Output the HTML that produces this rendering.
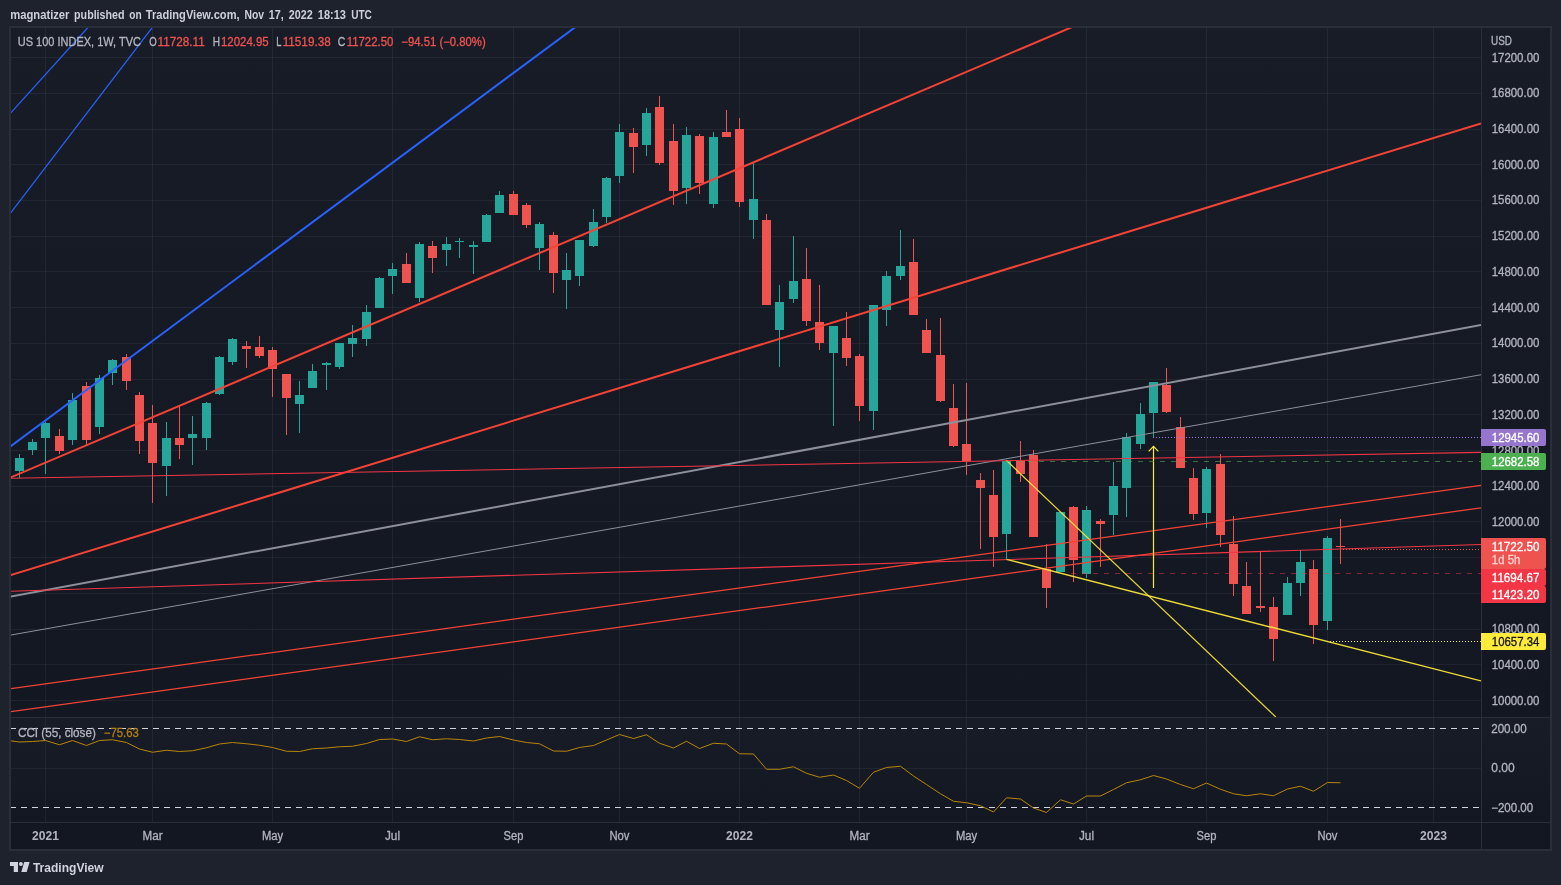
<!DOCTYPE html><html><head><meta charset="utf-8"><title>US 100 INDEX</title><style>html,body{margin:0;padding:0;background:#1e222d;overflow:hidden}svg{display:block}text{font-family:"Liberation Sans",sans-serif}</style></head><body>
<svg width="1561" height="885" viewBox="0 0 1561 885">
<rect width="1561" height="885" fill="#1e222d"/>
<rect x="9" y="26" width="1543" height="825" fill="#2a2e39"/>
<defs><linearGradient id="bgm" x1="0" y1="0" x2="0" y2="1"><stop offset="0" stop-color="#181c27"/><stop offset="1" stop-color="#131722"/></linearGradient></defs>
<rect x="11" y="28" width="1539" height="821" fill="#131722"/>
<rect x="11" y="28" width="1539" height="689" fill="url(#bgm)"/>
<rect x="11" y="718" width="1539" height="104" fill="url(#bgm)"/>
<defs><clipPath id="cm"><rect x="11" y="28" width="1470" height="689"/></clipPath><clipPath id="cc"><rect x="11" y="718" width="1470" height="104"/></clipPath><filter id="n" filterUnits="userSpaceOnUse" x="0" y="0" width="1561" height="885"><feOffset dx="0" dy="0"/></filter></defs>
<g shape-rendering="crispEdges" fill="rgba(240,243,250,0.06)">
<rect x="45" y="28" width="1" height="794"/>
<rect x="152" y="28" width="1" height="794"/>
<rect x="272" y="28" width="1" height="794"/>
<rect x="392" y="28" width="1" height="794"/>
<rect x="513" y="28" width="1" height="794"/>
<rect x="619" y="28" width="1" height="794"/>
<rect x="739" y="28" width="1" height="794"/>
<rect x="859" y="28" width="1" height="794"/>
<rect x="966" y="28" width="1" height="794"/>
<rect x="1086" y="28" width="1" height="794"/>
<rect x="1206" y="28" width="1" height="794"/>
<rect x="1327" y="28" width="1" height="794"/>
<rect x="1433" y="28" width="1" height="794"/>
<rect x="11" y="57" width="1470" height="1"/>
<rect x="11" y="93" width="1470" height="1"/>
<rect x="11" y="129" width="1470" height="1"/>
<rect x="11" y="164" width="1470" height="1"/>
<rect x="11" y="200" width="1470" height="1"/>
<rect x="11" y="236" width="1470" height="1"/>
<rect x="11" y="271" width="1470" height="1"/>
<rect x="11" y="307" width="1470" height="1"/>
<rect x="11" y="343" width="1470" height="1"/>
<rect x="11" y="379" width="1470" height="1"/>
<rect x="11" y="414" width="1470" height="1"/>
<rect x="11" y="450" width="1470" height="1"/>
<rect x="11" y="486" width="1470" height="1"/>
<rect x="11" y="521" width="1470" height="1"/>
<rect x="11" y="557" width="1470" height="1"/>
<rect x="11" y="593" width="1470" height="1"/>
<rect x="11" y="629" width="1470" height="1"/>
<rect x="11" y="664" width="1470" height="1"/>
<rect x="11" y="700" width="1470" height="1"/>
<rect x="11" y="768" width="1470" height="1"/>
</g>
<g shape-rendering="crispEdges" fill="#2a2e39">
<rect x="1481" y="28" width="1" height="821"/>
<rect x="11" y="717" width="1539" height="1"/>
<rect x="11" y="822" width="1539" height="1"/>
</g>
<g clip-path="url(#cm)">
<g shape-rendering="crispEdges">
<rect x="19" y="454" width="1" height="24" fill="#26a69a"/>
<rect x="15" y="458" width="9" height="13" fill="#26a69a"/>
<rect x="32" y="439" width="1" height="16" fill="#26a69a"/>
<rect x="28" y="442" width="9" height="8" fill="#26a69a"/>
<rect x="45" y="422" width="1" height="52" fill="#26a69a"/>
<rect x="41" y="423" width="9" height="15" fill="#26a69a"/>
<rect x="59" y="429" width="1" height="25" fill="#ef5350"/>
<rect x="55" y="436" width="9" height="15" fill="#ef5350"/>
<rect x="72" y="393" width="1" height="52" fill="#26a69a"/>
<rect x="68" y="400" width="9" height="40" fill="#26a69a"/>
<rect x="86" y="382" width="1" height="63" fill="#ef5350"/>
<rect x="82" y="386" width="9" height="54" fill="#ef5350"/>
<rect x="99" y="375" width="1" height="59" fill="#26a69a"/>
<rect x="95" y="378" width="9" height="49" fill="#26a69a"/>
<rect x="112" y="359" width="1" height="26" fill="#26a69a"/>
<rect x="108" y="360" width="9" height="13" fill="#26a69a"/>
<rect x="126" y="354" width="1" height="36" fill="#ef5350"/>
<rect x="122" y="357" width="9" height="24" fill="#ef5350"/>
<rect x="139" y="392" width="1" height="62" fill="#ef5350"/>
<rect x="135" y="395" width="9" height="46" fill="#ef5350"/>
<rect x="152" y="405" width="1" height="98" fill="#ef5350"/>
<rect x="148" y="423" width="9" height="40" fill="#ef5350"/>
<rect x="166" y="422" width="1" height="74" fill="#26a69a"/>
<rect x="162" y="438" width="9" height="28" fill="#26a69a"/>
<rect x="179" y="406" width="1" height="53" fill="#ef5350"/>
<rect x="175" y="438" width="9" height="7" fill="#ef5350"/>
<rect x="192" y="416" width="1" height="49" fill="#26a69a"/>
<rect x="188" y="434" width="9" height="4" fill="#26a69a"/>
<rect x="206" y="402" width="1" height="48" fill="#26a69a"/>
<rect x="202" y="403" width="9" height="35" fill="#26a69a"/>
<rect x="219" y="356" width="1" height="39" fill="#26a69a"/>
<rect x="215" y="357" width="9" height="37" fill="#26a69a"/>
<rect x="232" y="338" width="1" height="27" fill="#26a69a"/>
<rect x="228" y="339" width="9" height="23" fill="#26a69a"/>
<rect x="246" y="341" width="1" height="27" fill="#ef5350"/>
<rect x="242" y="346" width="9" height="3" fill="#ef5350"/>
<rect x="259" y="336" width="1" height="22" fill="#ef5350"/>
<rect x="255" y="347" width="9" height="9" fill="#ef5350"/>
<rect x="272" y="347" width="1" height="50" fill="#ef5350"/>
<rect x="268" y="350" width="9" height="19" fill="#ef5350"/>
<rect x="286" y="374" width="1" height="61" fill="#ef5350"/>
<rect x="282" y="374" width="9" height="24" fill="#ef5350"/>
<rect x="299" y="381" width="1" height="52" fill="#26a69a"/>
<rect x="295" y="395" width="9" height="9" fill="#26a69a"/>
<rect x="312" y="364" width="1" height="24" fill="#26a69a"/>
<rect x="308" y="371" width="9" height="17" fill="#26a69a"/>
<rect x="326" y="362" width="1" height="28" fill="#26a69a"/>
<rect x="322" y="363" width="9" height="2" fill="#26a69a"/>
<rect x="339" y="343" width="1" height="26" fill="#26a69a"/>
<rect x="335" y="343" width="9" height="24" fill="#26a69a"/>
<rect x="352" y="325" width="1" height="32" fill="#26a69a"/>
<rect x="348" y="338" width="9" height="6" fill="#26a69a"/>
<rect x="366" y="305" width="1" height="41" fill="#26a69a"/>
<rect x="362" y="312" width="9" height="27" fill="#26a69a"/>
<rect x="379" y="277" width="1" height="31" fill="#26a69a"/>
<rect x="375" y="278" width="9" height="30" fill="#26a69a"/>
<rect x="392" y="263" width="1" height="31" fill="#26a69a"/>
<rect x="388" y="269" width="9" height="7" fill="#26a69a"/>
<rect x="406" y="253" width="1" height="30" fill="#ef5350"/>
<rect x="402" y="264" width="9" height="19" fill="#ef5350"/>
<rect x="419" y="242" width="1" height="60" fill="#26a69a"/>
<rect x="415" y="244" width="9" height="54" fill="#26a69a"/>
<rect x="432" y="241" width="1" height="32" fill="#ef5350"/>
<rect x="428" y="246" width="9" height="12" fill="#ef5350"/>
<rect x="446" y="237" width="1" height="29" fill="#26a69a"/>
<rect x="442" y="244" width="9" height="6" fill="#26a69a"/>
<rect x="459" y="238" width="1" height="20" fill="#26a69a"/>
<rect x="455" y="241" width="9" height="1" fill="#26a69a"/>
<rect x="473" y="241" width="1" height="33" fill="#26a69a"/>
<rect x="469" y="245" width="9" height="2" fill="#26a69a"/>
<rect x="486" y="214" width="1" height="28" fill="#26a69a"/>
<rect x="482" y="215" width="9" height="27" fill="#26a69a"/>
<rect x="499" y="191" width="1" height="22" fill="#26a69a"/>
<rect x="495" y="195" width="9" height="18" fill="#26a69a"/>
<rect x="513" y="191" width="1" height="24" fill="#ef5350"/>
<rect x="509" y="194" width="9" height="21" fill="#ef5350"/>
<rect x="526" y="203" width="1" height="25" fill="#ef5350"/>
<rect x="522" y="205" width="9" height="20" fill="#ef5350"/>
<rect x="539" y="222" width="1" height="48" fill="#26a69a"/>
<rect x="535" y="224" width="9" height="24" fill="#26a69a"/>
<rect x="553" y="232" width="1" height="61" fill="#ef5350"/>
<rect x="549" y="235" width="9" height="38" fill="#ef5350"/>
<rect x="566" y="253" width="1" height="56" fill="#26a69a"/>
<rect x="562" y="270" width="9" height="10" fill="#26a69a"/>
<rect x="579" y="240" width="1" height="46" fill="#26a69a"/>
<rect x="575" y="240" width="9" height="36" fill="#26a69a"/>
<rect x="593" y="209" width="1" height="38" fill="#26a69a"/>
<rect x="589" y="222" width="9" height="24" fill="#26a69a"/>
<rect x="606" y="177" width="1" height="46" fill="#26a69a"/>
<rect x="602" y="178" width="9" height="39" fill="#26a69a"/>
<rect x="619" y="124" width="1" height="59" fill="#26a69a"/>
<rect x="615" y="132" width="9" height="44" fill="#26a69a"/>
<rect x="633" y="128" width="1" height="45" fill="#ef5350"/>
<rect x="629" y="133" width="9" height="14" fill="#ef5350"/>
<rect x="646" y="108" width="1" height="48" fill="#26a69a"/>
<rect x="642" y="113" width="9" height="32" fill="#26a69a"/>
<rect x="659" y="96" width="1" height="69" fill="#ef5350"/>
<rect x="655" y="107" width="9" height="56" fill="#ef5350"/>
<rect x="673" y="124" width="1" height="81" fill="#ef5350"/>
<rect x="669" y="141" width="9" height="50" fill="#ef5350"/>
<rect x="686" y="127" width="1" height="77" fill="#26a69a"/>
<rect x="682" y="135" width="9" height="53" fill="#26a69a"/>
<rect x="699" y="134" width="1" height="60" fill="#ef5350"/>
<rect x="695" y="136" width="9" height="47" fill="#ef5350"/>
<rect x="713" y="132" width="1" height="76" fill="#26a69a"/>
<rect x="709" y="137" width="9" height="67" fill="#26a69a"/>
<rect x="726" y="110" width="1" height="27" fill="#ef5350"/>
<rect x="722" y="132" width="9" height="5" fill="#ef5350"/>
<rect x="739" y="118" width="1" height="89" fill="#ef5350"/>
<rect x="735" y="129" width="9" height="73" fill="#ef5350"/>
<rect x="753" y="163" width="1" height="76" fill="#26a69a"/>
<rect x="749" y="199" width="9" height="21" fill="#26a69a"/>
<rect x="766" y="214" width="1" height="91" fill="#ef5350"/>
<rect x="762" y="220" width="9" height="85" fill="#ef5350"/>
<rect x="779" y="285" width="1" height="82" fill="#26a69a"/>
<rect x="775" y="302" width="9" height="28" fill="#26a69a"/>
<rect x="793" y="236" width="1" height="67" fill="#26a69a"/>
<rect x="789" y="281" width="9" height="18" fill="#26a69a"/>
<rect x="806" y="248" width="1" height="78" fill="#ef5350"/>
<rect x="802" y="279" width="9" height="42" fill="#ef5350"/>
<rect x="819" y="285" width="1" height="65" fill="#ef5350"/>
<rect x="815" y="322" width="9" height="21" fill="#ef5350"/>
<rect x="833" y="326" width="1" height="100" fill="#26a69a"/>
<rect x="829" y="326" width="9" height="27" fill="#26a69a"/>
<rect x="846" y="312" width="1" height="54" fill="#ef5350"/>
<rect x="842" y="338" width="9" height="20" fill="#ef5350"/>
<rect x="859" y="354" width="1" height="67" fill="#ef5350"/>
<rect x="855" y="356" width="9" height="50" fill="#ef5350"/>
<rect x="873" y="305" width="1" height="125" fill="#26a69a"/>
<rect x="869" y="305" width="9" height="106" fill="#26a69a"/>
<rect x="886" y="271" width="1" height="55" fill="#26a69a"/>
<rect x="882" y="276" width="9" height="34" fill="#26a69a"/>
<rect x="900" y="230" width="1" height="50" fill="#26a69a"/>
<rect x="896" y="266" width="9" height="10" fill="#26a69a"/>
<rect x="913" y="239" width="1" height="76" fill="#ef5350"/>
<rect x="909" y="262" width="9" height="53" fill="#ef5350"/>
<rect x="926" y="319" width="1" height="34" fill="#ef5350"/>
<rect x="922" y="330" width="9" height="23" fill="#ef5350"/>
<rect x="940" y="318" width="1" height="84" fill="#ef5350"/>
<rect x="936" y="355" width="9" height="46" fill="#ef5350"/>
<rect x="953" y="384" width="1" height="63" fill="#ef5350"/>
<rect x="949" y="408" width="9" height="38" fill="#ef5350"/>
<rect x="966" y="383" width="1" height="92" fill="#ef5350"/>
<rect x="962" y="444" width="9" height="17" fill="#ef5350"/>
<rect x="980" y="473" width="1" height="76" fill="#ef5350"/>
<rect x="976" y="480" width="9" height="8" fill="#ef5350"/>
<rect x="993" y="470" width="1" height="97" fill="#ef5350"/>
<rect x="989" y="495" width="9" height="42" fill="#ef5350"/>
<rect x="1006" y="461" width="1" height="98" fill="#26a69a"/>
<rect x="1002" y="461" width="9" height="73" fill="#26a69a"/>
<rect x="1020" y="441" width="1" height="41" fill="#ef5350"/>
<rect x="1016" y="461" width="9" height="13" fill="#ef5350"/>
<rect x="1033" y="450" width="1" height="87" fill="#ef5350"/>
<rect x="1029" y="455" width="9" height="82" fill="#ef5350"/>
<rect x="1046" y="544" width="1" height="64" fill="#ef5350"/>
<rect x="1042" y="569" width="9" height="19" fill="#ef5350"/>
<rect x="1060" y="512" width="1" height="60" fill="#26a69a"/>
<rect x="1056" y="512" width="9" height="60" fill="#26a69a"/>
<rect x="1073" y="506" width="1" height="76" fill="#ef5350"/>
<rect x="1069" y="507" width="9" height="53" fill="#ef5350"/>
<rect x="1086" y="506" width="1" height="72" fill="#26a69a"/>
<rect x="1082" y="510" width="9" height="64" fill="#26a69a"/>
<rect x="1100" y="519" width="1" height="48" fill="#ef5350"/>
<rect x="1096" y="521" width="9" height="3" fill="#ef5350"/>
<rect x="1113" y="462" width="1" height="73" fill="#26a69a"/>
<rect x="1109" y="486" width="9" height="29" fill="#26a69a"/>
<rect x="1126" y="433" width="1" height="84" fill="#26a69a"/>
<rect x="1122" y="437" width="9" height="51" fill="#26a69a"/>
<rect x="1140" y="403" width="1" height="46" fill="#26a69a"/>
<rect x="1136" y="414" width="9" height="30" fill="#26a69a"/>
<rect x="1153" y="382" width="1" height="55" fill="#26a69a"/>
<rect x="1149" y="382" width="9" height="31" fill="#26a69a"/>
<rect x="1166" y="368" width="1" height="45" fill="#ef5350"/>
<rect x="1162" y="385" width="9" height="27" fill="#ef5350"/>
<rect x="1180" y="417" width="1" height="51" fill="#ef5350"/>
<rect x="1176" y="427" width="9" height="41" fill="#ef5350"/>
<rect x="1193" y="468" width="1" height="52" fill="#ef5350"/>
<rect x="1189" y="478" width="9" height="36" fill="#ef5350"/>
<rect x="1206" y="467" width="1" height="61" fill="#26a69a"/>
<rect x="1202" y="469" width="9" height="44" fill="#26a69a"/>
<rect x="1220" y="454" width="1" height="93" fill="#ef5350"/>
<rect x="1216" y="464" width="9" height="71" fill="#ef5350"/>
<rect x="1233" y="516" width="1" height="80" fill="#ef5350"/>
<rect x="1229" y="544" width="9" height="40" fill="#ef5350"/>
<rect x="1246" y="562" width="1" height="52" fill="#ef5350"/>
<rect x="1242" y="586" width="9" height="28" fill="#ef5350"/>
<rect x="1260" y="551" width="1" height="61" fill="#ef5350"/>
<rect x="1256" y="606" width="9" height="2" fill="#ef5350"/>
<rect x="1273" y="597" width="1" height="64" fill="#ef5350"/>
<rect x="1269" y="607" width="9" height="32" fill="#ef5350"/>
<rect x="1287" y="577" width="1" height="38" fill="#26a69a"/>
<rect x="1283" y="583" width="9" height="32" fill="#26a69a"/>
<rect x="1300" y="550" width="1" height="46" fill="#26a69a"/>
<rect x="1296" y="562" width="9" height="21" fill="#26a69a"/>
<rect x="1313" y="560" width="1" height="84" fill="#ef5350"/>
<rect x="1309" y="569" width="9" height="56" fill="#ef5350"/>
<rect x="1327" y="536" width="1" height="94" fill="#26a69a"/>
<rect x="1323" y="538" width="9" height="83" fill="#26a69a"/>
<rect x="1340" y="519" width="1" height="45" fill="#ef5350"/>
<rect x="1336" y="546" width="9" height="1" fill="#ef5350"/>
</g>
<line x1="10.00" y1="446.70" x2="575.50" y2="27.00" stroke="#2962ff" stroke-width="2" />
<line x1="10.00" y1="113.70" x2="88.30" y2="27.10" stroke="#2962ff" stroke-width="1.25" />
<line x1="10.00" y1="213.80" x2="152.60" y2="27.10" stroke="#2962ff" stroke-width="1.25" />
<line x1="10.00" y1="477.70" x2="1072.30" y2="27.00" stroke="#f44336" stroke-width="2" />
<line x1="10.00" y1="575.30" x2="1481.00" y2="123.40" stroke="#f44336" stroke-width="2" />
<line x1="10.00" y1="596.75" x2="1481.00" y2="325.10" stroke="#8d909b" stroke-width="2" />
<line x1="10.00" y1="635.20" x2="1481.00" y2="374.75" stroke="#8d909b" stroke-width="1" />
<line x1="10.00" y1="478.30" x2="1481.00" y2="452.30" stroke="#f23645" stroke-width="1.15" />
<line x1="10.00" y1="591.30" x2="1481.00" y2="544.50" stroke="#f23645" stroke-width="1.15" />
<line x1="10.00" y1="688.75" x2="1481.00" y2="485.40" stroke="#f44336" stroke-width="1.25" />
<line x1="10.00" y1="711.75" x2="1481.00" y2="507.85" stroke="#f44336" stroke-width="1.25" />
<line x1="1006.50" y1="460.50" x2="1275.80" y2="717.00" stroke="#ffeb3b" stroke-width="1.2" stroke-opacity="0.9"/>
<line x1="1006.50" y1="559.40" x2="1481.00" y2="680.90" stroke="#ffeb3b" stroke-width="1.45" stroke-opacity="0.92"/>
<line x1="1153.50" y1="588.00" x2="1153.50" y2="446.50" stroke="#ffeb3b" stroke-width="1.2" />
<polyline points="1148.7,451.3 1153.5,446.4 1158.3,451.3" fill="none" stroke="#ffeb3b" stroke-width="1.2"/>
<g shape-rendering="crispEdges">
<line x1="1153" y1="437.5" x2="1481" y2="437.5" stroke="#a374e3" stroke-width="1" stroke-dasharray="1 2" stroke-opacity="1"/>
<line x1="1006" y1="461.5" x2="1481" y2="461.5" stroke="#4caf50" stroke-width="1" stroke-dasharray="5 6" stroke-opacity="0.6"/>
<line x1="1071" y1="573.5" x2="1481" y2="573.5" stroke="#f23645" stroke-width="1" stroke-dasharray="5 6" stroke-opacity="0.5"/>
<line x1="1343" y1="549.5" x2="1481" y2="549.5" stroke="#ef5350" stroke-width="1" stroke-dasharray="1 2" stroke-opacity="1"/>
<line x1="1330" y1="641.5" x2="1481" y2="641.5" stroke="#ffeb3b" stroke-width="1" stroke-dasharray="1 2" stroke-opacity="1"/>
</g>
</g>
<g clip-path="url(#cc)">
<g shape-rendering="crispEdges">
<line x1="10" y1="728.5" x2="1481" y2="728.5" stroke="#d1d4dc" stroke-width="1" stroke-dasharray="6 5"/>
<line x1="10" y1="807.5" x2="1481" y2="807.5" stroke="#d1d4dc" stroke-width="1" stroke-dasharray="6 5"/>
</g>
<polyline points="10,740.75 19.5,742.00 32.5,741.50 45.5,740.50 59.5,744.75 72.5,740.50 86.5,745.50 99.5,740.50 112.5,739.75 126.5,742.50 139.5,749.00 152.5,752.25 166.5,750.25 179.5,751.50 192.5,750.75 206.5,747.75 219.5,744.00 232.5,742.50 246.5,743.75 259.5,745.25 272.5,747.50 286.5,751.25 299.5,751.50 312.5,748.75 326.5,748.00 339.5,746.75 352.5,746.25 366.5,743.50 379.5,739.50 392.5,739.00 406.5,741.50 419.5,736.75 432.5,739.75 446.5,738.75 459.5,739.50 473.5,741.00 486.5,738.00 499.5,736.50 513.5,740.00 526.5,742.50 539.5,743.75 553.5,751.00 566.5,751.25 579.5,747.50 593.5,745.50 606.5,740.00 619.5,734.50 633.5,738.50 646.5,734.75 659.5,743.25 673.5,748.00 686.5,741.25 699.5,748.50 713.5,743.25 726.5,744.00 739.5,753.75 753.5,754.00 766.5,769.25 779.5,769.25 793.5,766.75 806.5,773.25 819.5,777.25 833.5,775.00 846.5,780.50 859.5,788.25 873.5,772.25 886.5,767.50 900.5,766.25 913.5,776.00 926.5,784.50 940.5,793.75 953.5,801.25 966.5,802.75 980.5,805.75 993.5,812.00 1006.5,797.75 1020.5,799.00 1033.5,808.00 1046.5,812.50 1060.5,799.75 1073.5,804.00 1086.5,796.00 1100.5,796.00 1113.5,789.50 1126.5,782.75 1140.5,779.75 1153.5,775.50 1166.5,779.00 1180.5,784.50 1193.5,788.75 1206.5,783.00 1220.5,789.25 1233.5,793.75 1246.5,795.75 1260.5,793.75 1273.5,795.75 1287.5,789.00 1300.5,786.25 1313.5,791.25 1327.5,782.50 1340.5,782.75" fill="none" stroke="#b8860b" stroke-width="1" stroke-linejoin="round"/>
</g>
<g filter="url(#n)">
<text x="10.2" y="18.6" font-size="12" font-weight="bold" fill="#cdd0d9" text-anchor="start" textLength="59.3" lengthAdjust="spacingAndGlyphs">magnatizer</text>
<text x="74.1" y="18.6" font-size="12" font-weight="bold" fill="#cdd0d9" text-anchor="start" textLength="50.4" lengthAdjust="spacingAndGlyphs">published</text>
<text x="129.2" y="18.6" font-size="12" font-weight="bold" fill="#cdd0d9" text-anchor="start" textLength="12.4" lengthAdjust="spacingAndGlyphs">on</text>
<text x="145.8" y="18.6" font-size="12" font-weight="bold" fill="#cdd0d9" text-anchor="start" textLength="93.8" lengthAdjust="spacingAndGlyphs">TradingView.com,</text>
<text x="244.5" y="18.6" font-size="12" font-weight="bold" fill="#cdd0d9" text-anchor="start" textLength="19.5" lengthAdjust="spacingAndGlyphs">Nov</text>
<text x="268.8" y="18.6" font-size="12" font-weight="bold" fill="#cdd0d9" text-anchor="start" textLength="15.0" lengthAdjust="spacingAndGlyphs">17,</text>
<text x="288.7" y="18.6" font-size="12" font-weight="bold" fill="#cdd0d9" text-anchor="start" textLength="24.0" lengthAdjust="spacingAndGlyphs">2022</text>
<text x="317.8" y="18.6" font-size="12" font-weight="bold" fill="#cdd0d9" text-anchor="start" textLength="28.2" lengthAdjust="spacingAndGlyphs">18:13</text>
<text x="351.2" y="18.6" font-size="12" font-weight="bold" fill="#cdd0d9" text-anchor="start" textLength="20.7" lengthAdjust="spacingAndGlyphs">UTC</text>
<text x="17.8" y="46.0" font-size="12" font-weight="normal" fill="#b2b5be" text-anchor="start" textLength="123.2" lengthAdjust="spacingAndGlyphs" stroke="#b2b5be" stroke-width="0.3">US 100 INDEX, 1W, TVC</text>
<text x="149.2" y="46.0" font-size="12" font-weight="normal" fill="#b2b5be" text-anchor="start" textLength="7.5" lengthAdjust="spacingAndGlyphs" stroke="#b2b5be" stroke-width="0.3">O</text>
<text x="157.5" y="46.0" font-size="12" font-weight="normal" fill="#ef5350" text-anchor="start" textLength="47.2" lengthAdjust="spacingAndGlyphs" stroke="#ef5350" stroke-width="0.3">11728.11</text>
<text x="212.7" y="46.0" font-size="12" font-weight="normal" fill="#b2b5be" text-anchor="start" textLength="7.3" lengthAdjust="spacingAndGlyphs" stroke="#b2b5be" stroke-width="0.3">H</text>
<text x="221.0" y="46.0" font-size="12" font-weight="normal" fill="#ef5350" text-anchor="start" textLength="47.7" lengthAdjust="spacingAndGlyphs" stroke="#ef5350" stroke-width="0.3">12024.95</text>
<text x="276.3" y="46.0" font-size="12" font-weight="normal" fill="#b2b5be" text-anchor="start" textLength="5.2" lengthAdjust="spacingAndGlyphs" stroke="#b2b5be" stroke-width="0.3">L</text>
<text x="282.7" y="46.0" font-size="12" font-weight="normal" fill="#ef5350" text-anchor="start" textLength="48.0" lengthAdjust="spacingAndGlyphs" stroke="#ef5350" stroke-width="0.3">11519.38</text>
<text x="337.7" y="46.0" font-size="12" font-weight="normal" fill="#b2b5be" text-anchor="start" textLength="7.6" lengthAdjust="spacingAndGlyphs" stroke="#b2b5be" stroke-width="0.3">C</text>
<text x="346.7" y="46.0" font-size="12" font-weight="normal" fill="#ef5350" text-anchor="start" textLength="46.6" lengthAdjust="spacingAndGlyphs" stroke="#ef5350" stroke-width="0.3">11722.50</text>
<text x="401.3" y="46.0" font-size="12" font-weight="normal" fill="#ef5350" text-anchor="start" textLength="84.4" lengthAdjust="spacingAndGlyphs" stroke="#ef5350" stroke-width="0.3">−94.51 (−0.80%)</text>
<text x="18.0" y="736.8" font-size="12" font-weight="normal" fill="#b2b5be" text-anchor="start" textLength="77.8" lengthAdjust="spacingAndGlyphs" stroke="#b2b5be" stroke-width="0.3">CCI (55, close)</text>
<text x="103.8" y="736.8" font-size="12" font-weight="normal" fill="#b07f12" text-anchor="start" textLength="35.0" lengthAdjust="spacingAndGlyphs" stroke="#b07f12" stroke-width="0.3">−75.63</text>
<text x="1491.1" y="45.0" font-size="12" font-weight="normal" fill="#b2b5be" text-anchor="start" textLength="20.9" lengthAdjust="spacingAndGlyphs" stroke="#b2b5be" stroke-width="0.3">USD</text>
<text x="1491.7" y="62.0" font-size="12" font-weight="normal" fill="#b2b5be" text-anchor="start" textLength="47.7" lengthAdjust="spacingAndGlyphs" stroke="#b2b5be" stroke-width="0.3">17200.00</text>
<text x="1491.7" y="97.0" font-size="12" font-weight="normal" fill="#b2b5be" text-anchor="start" textLength="47.7" lengthAdjust="spacingAndGlyphs" stroke="#b2b5be" stroke-width="0.3">16800.00</text>
<text x="1491.7" y="133.0" font-size="12" font-weight="normal" fill="#b2b5be" text-anchor="start" textLength="47.7" lengthAdjust="spacingAndGlyphs" stroke="#b2b5be" stroke-width="0.3">16400.00</text>
<text x="1491.7" y="169.0" font-size="12" font-weight="normal" fill="#b2b5be" text-anchor="start" textLength="47.7" lengthAdjust="spacingAndGlyphs" stroke="#b2b5be" stroke-width="0.3">16000.00</text>
<text x="1491.7" y="204.0" font-size="12" font-weight="normal" fill="#b2b5be" text-anchor="start" textLength="47.7" lengthAdjust="spacingAndGlyphs" stroke="#b2b5be" stroke-width="0.3">15600.00</text>
<text x="1491.7" y="240.0" font-size="12" font-weight="normal" fill="#b2b5be" text-anchor="start" textLength="47.7" lengthAdjust="spacingAndGlyphs" stroke="#b2b5be" stroke-width="0.3">15200.00</text>
<text x="1491.7" y="276.0" font-size="12" font-weight="normal" fill="#b2b5be" text-anchor="start" textLength="47.7" lengthAdjust="spacingAndGlyphs" stroke="#b2b5be" stroke-width="0.3">14800.00</text>
<text x="1491.7" y="312.0" font-size="12" font-weight="normal" fill="#b2b5be" text-anchor="start" textLength="47.7" lengthAdjust="spacingAndGlyphs" stroke="#b2b5be" stroke-width="0.3">14400.00</text>
<text x="1491.7" y="347.0" font-size="12" font-weight="normal" fill="#b2b5be" text-anchor="start" textLength="47.7" lengthAdjust="spacingAndGlyphs" stroke="#b2b5be" stroke-width="0.3">14000.00</text>
<text x="1491.7" y="383.0" font-size="12" font-weight="normal" fill="#b2b5be" text-anchor="start" textLength="47.7" lengthAdjust="spacingAndGlyphs" stroke="#b2b5be" stroke-width="0.3">13600.00</text>
<text x="1491.7" y="419.0" font-size="12" font-weight="normal" fill="#b2b5be" text-anchor="start" textLength="47.7" lengthAdjust="spacingAndGlyphs" stroke="#b2b5be" stroke-width="0.3">13200.00</text>
<text x="1491.7" y="455.0" font-size="12" font-weight="normal" fill="#b2b5be" text-anchor="start" textLength="47.7" lengthAdjust="spacingAndGlyphs" stroke="#b2b5be" stroke-width="0.3">12800.00</text>
<text x="1491.7" y="490.0" font-size="12" font-weight="normal" fill="#b2b5be" text-anchor="start" textLength="47.7" lengthAdjust="spacingAndGlyphs" stroke="#b2b5be" stroke-width="0.3">12400.00</text>
<text x="1491.7" y="526.0" font-size="12" font-weight="normal" fill="#b2b5be" text-anchor="start" textLength="47.7" lengthAdjust="spacingAndGlyphs" stroke="#b2b5be" stroke-width="0.3">12000.00</text>
<text x="1491.7" y="562.0" font-size="12" font-weight="normal" fill="#b2b5be" text-anchor="start" textLength="47.7" lengthAdjust="spacingAndGlyphs" stroke="#b2b5be" stroke-width="0.3">11600.00</text>
<text x="1491.7" y="597.0" font-size="12" font-weight="normal" fill="#b2b5be" text-anchor="start" textLength="47.7" lengthAdjust="spacingAndGlyphs" stroke="#b2b5be" stroke-width="0.3">11200.00</text>
<text x="1491.7" y="633.0" font-size="12" font-weight="normal" fill="#b2b5be" text-anchor="start" textLength="47.7" lengthAdjust="spacingAndGlyphs" stroke="#b2b5be" stroke-width="0.3">10800.00</text>
<text x="1491.7" y="669.0" font-size="12" font-weight="normal" fill="#b2b5be" text-anchor="start" textLength="47.7" lengthAdjust="spacingAndGlyphs" stroke="#b2b5be" stroke-width="0.3">10400.00</text>
<text x="1491.7" y="705.0" font-size="12" font-weight="normal" fill="#b2b5be" text-anchor="start" textLength="47.7" lengthAdjust="spacingAndGlyphs" stroke="#b2b5be" stroke-width="0.3">10000.00</text>
<text x="1491.2" y="733.0" font-size="12" font-weight="normal" fill="#b2b5be" text-anchor="start" textLength="35.5" lengthAdjust="spacingAndGlyphs" stroke="#b2b5be" stroke-width="0.3">200.00</text>
<text x="1491.2" y="772.0" font-size="12" font-weight="normal" fill="#b2b5be" text-anchor="start" textLength="23.5" lengthAdjust="spacingAndGlyphs" stroke="#b2b5be" stroke-width="0.3">0.00</text>
<text x="1491.2" y="812.0" font-size="12" font-weight="normal" fill="#b2b5be" text-anchor="start" textLength="42.0" lengthAdjust="spacingAndGlyphs" stroke="#b2b5be" stroke-width="0.3">−200.00</text>
<text x="45.5" y="840.0" font-size="12" font-weight="bold" fill="#b2b5be" text-anchor="middle" textLength="26.8" lengthAdjust="spacingAndGlyphs">2021</text>
<text x="152.5" y="840.0" font-size="12" font-weight="normal" fill="#b2b5be" text-anchor="middle" textLength="20.0" lengthAdjust="spacingAndGlyphs" stroke="#b2b5be" stroke-width="0.3">Mar</text>
<text x="272.5" y="840.0" font-size="12" font-weight="normal" fill="#b2b5be" text-anchor="middle" textLength="21.2" lengthAdjust="spacingAndGlyphs" stroke="#b2b5be" stroke-width="0.3">May</text>
<text x="392.5" y="840.0" font-size="12" font-weight="normal" fill="#b2b5be" text-anchor="middle" textLength="15.0" lengthAdjust="spacingAndGlyphs" stroke="#b2b5be" stroke-width="0.3">Jul</text>
<text x="513.5" y="840.0" font-size="12" font-weight="normal" fill="#b2b5be" text-anchor="middle" textLength="19.8" lengthAdjust="spacingAndGlyphs" stroke="#b2b5be" stroke-width="0.3">Sep</text>
<text x="619.5" y="840.0" font-size="12" font-weight="normal" fill="#b2b5be" text-anchor="middle" textLength="20.0" lengthAdjust="spacingAndGlyphs" stroke="#b2b5be" stroke-width="0.3">Nov</text>
<text x="739.5" y="840.0" font-size="12" font-weight="bold" fill="#b2b5be" text-anchor="middle" textLength="26.8" lengthAdjust="spacingAndGlyphs">2022</text>
<text x="859.5" y="840.0" font-size="12" font-weight="normal" fill="#b2b5be" text-anchor="middle" textLength="20.0" lengthAdjust="spacingAndGlyphs" stroke="#b2b5be" stroke-width="0.3">Mar</text>
<text x="966.5" y="840.0" font-size="12" font-weight="normal" fill="#b2b5be" text-anchor="middle" textLength="21.2" lengthAdjust="spacingAndGlyphs" stroke="#b2b5be" stroke-width="0.3">May</text>
<text x="1086.5" y="840.0" font-size="12" font-weight="normal" fill="#b2b5be" text-anchor="middle" textLength="15.0" lengthAdjust="spacingAndGlyphs" stroke="#b2b5be" stroke-width="0.3">Jul</text>
<text x="1206.5" y="840.0" font-size="12" font-weight="normal" fill="#b2b5be" text-anchor="middle" textLength="19.8" lengthAdjust="spacingAndGlyphs" stroke="#b2b5be" stroke-width="0.3">Sep</text>
<text x="1327.5" y="840.0" font-size="12" font-weight="normal" fill="#b2b5be" text-anchor="middle" textLength="20.0" lengthAdjust="spacingAndGlyphs" stroke="#b2b5be" stroke-width="0.3">Nov</text>
<text x="1433.5" y="840.0" font-size="12" font-weight="bold" fill="#b2b5be" text-anchor="middle" textLength="27.0" lengthAdjust="spacingAndGlyphs">2023</text>
<path d="M1481 429 H1544 a2 2 0 0 1 2 2 V444 a2 2 0 0 1 -2 2 H1481 Z" fill="#9575cd"/>
<text x="1491.8" y="441.8" font-size="12" font-weight="normal" fill="#ffffff" text-anchor="start" textLength="47.6" lengthAdjust="spacingAndGlyphs" stroke="#ffffff" stroke-width="0.3">12945.60</text>
<path d="M1481 453 H1544 a2 2 0 0 1 2 2 V468 a2 2 0 0 1 -2 2 H1481 Z" fill="#4caf50"/>
<text x="1491.8" y="465.8" font-size="12" font-weight="normal" fill="#ffffff" text-anchor="start" textLength="47.6" lengthAdjust="spacingAndGlyphs" stroke="#ffffff" stroke-width="0.3">12682.58</text>
<path d="M1481 538 H1544 a2 2 0 0 1 2 2 V567 a2 2 0 0 1 -2 2 H1481 Z" fill="#ef5350"/>
<text x="1491.8" y="550.6" font-size="12" font-weight="normal" fill="#ffffff" text-anchor="start" textLength="47.6" lengthAdjust="spacingAndGlyphs" stroke="#ffffff" stroke-width="0.3">11722.50</text>
<text x="1491.8" y="564.4" font-size="12" font-weight="normal" fill="#fbd0cf" text-anchor="start" textLength="28.5" lengthAdjust="spacingAndGlyphs" stroke="#fbd0cf" stroke-width="0.3">1d 5h</text>
<path d="M1481 569 H1544 a2 2 0 0 1 2 2 V584 a2 2 0 0 1 -2 2 H1481 Z" fill="#f23645"/>
<text x="1491.8" y="581.8" font-size="12" font-weight="normal" fill="#ffffff" text-anchor="start" textLength="47.6" lengthAdjust="spacingAndGlyphs" stroke="#ffffff" stroke-width="0.3">11694.67</text>
<path d="M1481 586 H1544 a2 2 0 0 1 2 2 V601 a2 2 0 0 1 -2 2 H1481 Z" fill="#f23645"/>
<text x="1491.8" y="598.8" font-size="12" font-weight="normal" fill="#ffffff" text-anchor="start" textLength="47.6" lengthAdjust="spacingAndGlyphs" stroke="#ffffff" stroke-width="0.3">11423.20</text>
<path d="M1481 633 H1544 a2 2 0 0 1 2 2 V648 a2 2 0 0 1 -2 2 H1481 Z" fill="#ffeb3b"/>
<text x="1491.8" y="645.8" font-size="12" font-weight="normal" fill="#131722" text-anchor="start" textLength="47.6" lengthAdjust="spacingAndGlyphs" stroke="#131722" stroke-width="0.3">10657.34</text>
<g fill="#d1d4dc"><path d="M10 862 H18 V872 H13.75 V866 H10 Z"/><circle cx="20.9" cy="864" r="1.95"/><path d="M24.2 862 H29.6 L26.7 872 H21.3 Z"/></g>
<text x="32.9" y="872.0" font-size="13" font-weight="bold" fill="#d1d4dc" text-anchor="start" textLength="70.8" lengthAdjust="spacingAndGlyphs">TradingView</text>
</g>
</svg></body></html>
